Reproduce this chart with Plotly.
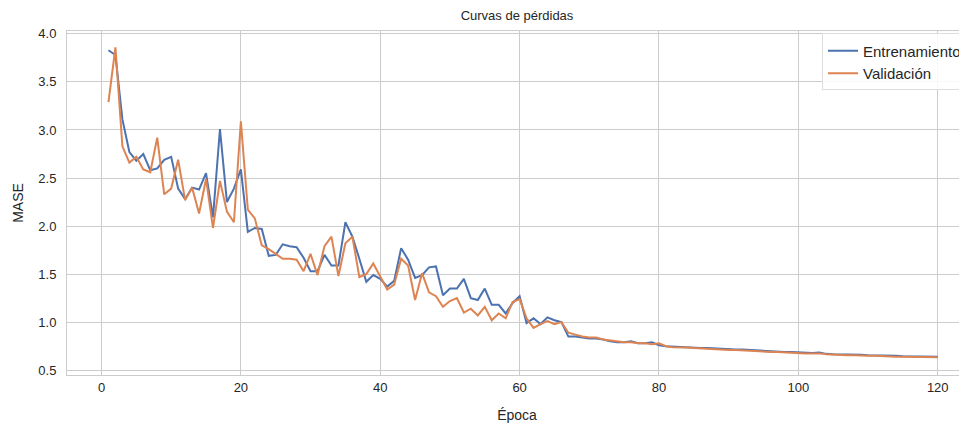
import plotly.graph_objects as go

epochs = list(range(1, 121))

train_loss = [
    3.83, 3.78, 3.11, 2.77, 2.68, 2.75, 2.58, 2.60, 2.69, 2.72,
    2.39, 2.28, 2.40, 2.38, 2.55, 2.09, 3.01, 2.25, 2.39, 2.59,
    1.94, 1.98, 1.97, 1.69, 1.70, 1.81, 1.79, 1.78, 1.67, 1.53,
    1.53, 1.70, 1.59, 1.59, 2.04, 1.89, 1.66, 1.42, 1.49, 1.45,
    1.37, 1.43, 1.77, 1.65, 1.46, 1.49, 1.57, 1.58, 1.28, 1.35,
    1.35, 1.45, 1.25, 1.23, 1.35, 1.18, 1.18, 1.09, 1.20, 1.27,
    0.99, 1.04, 0.98, 1.05, 1.02, 1.00, 0.85, 0.85, 0.84, 0.83,
    0.83, 0.82, 0.80, 0.79, 0.79, 0.80, 0.78, 0.78, 0.79, 0.76,
    0.75, 0.745, 0.745, 0.74, 0.735, 0.73, 0.73, 0.725, 0.72, 0.72,
    0.715, 0.715, 0.71, 0.705, 0.70, 0.70, 0.695, 0.69, 0.69, 0.685,
    0.685, 0.68, 0.685, 0.67, 0.665, 0.665, 0.66, 0.66, 0.66, 0.655,
    0.655, 0.65, 0.65, 0.65, 0.645, 0.645, 0.645, 0.64, 0.64, 0.64,
]

val_loss = [
    3.29, 3.86, 2.83, 2.66, 2.72, 2.59, 2.56, 2.92, 2.33, 2.39,
    2.69, 2.27, 2.40, 2.13, 2.49, 1.98, 2.47, 2.15, 2.04, 3.09,
    2.17, 2.08, 1.80, 1.76, 1.71, 1.66, 1.66, 1.65, 1.53, 1.71,
    1.49, 1.79, 1.89, 1.48, 1.82, 1.89, 1.47, 1.50, 1.61, 1.48,
    1.34, 1.39, 1.66, 1.59, 1.23, 1.51, 1.31, 1.27, 1.16, 1.22,
    1.25, 1.10, 1.14, 1.07, 1.16, 1.02, 1.09, 1.04, 1.21, 1.24,
    1.04, 0.94, 0.98, 1.01, 0.98, 1.00, 0.89, 0.87, 0.85, 0.84,
    0.84, 0.82, 0.81, 0.80, 0.79, 0.79, 0.78, 0.78, 0.77, 0.78,
    0.75, 0.74, 0.74, 0.735, 0.73, 0.725, 0.725, 0.72, 0.715, 0.71,
    0.71, 0.705, 0.70, 0.70, 0.695, 0.69, 0.69, 0.685, 0.68, 0.68,
    0.675, 0.675, 0.675, 0.665, 0.66, 0.66, 0.655, 0.655, 0.65, 0.65,
    0.65, 0.645, 0.645, 0.64, 0.64, 0.64, 0.635, 0.635, 0.635, 0.635,
]

x_ticks = [0, 20, 40, 60, 80, 100, 120]
y_ticks = [0.5, 1.0, 1.5, 2.0, 2.5, 3.0, 3.5, 4.0]

FONT = "Liberation Sans, Arial, sans-serif"
TXT = "#262626"

fig = go.Figure()
fig.add_trace(go.Scatter(x=epochs, y=train_loss, mode="lines", name="Entrenamiento",
                         line=dict(color="#4c72b0", width=2)))
fig.add_trace(go.Scatter(x=epochs, y=val_loss, mode="lines", name="Validación",
                         line=dict(color="#dd8452", width=2)))

H = 419
fig.update_layout(
    width=959, height=H,
    margin=dict(l=59, r=0, t=23, b=52),
    plot_bgcolor="white", paper_bgcolor="white",
    font=dict(family=FONT, size=13, color=TXT),
    title=dict(text="Curvas de pérdidas", x=0.5, xref="paper", y=1 - 3 / H, yref="container",
               yanchor="top", font=dict(size=13, color=TXT)),
    showlegend=True,
    legend=dict(x=1.0, y=0.993, xanchor="right", yanchor="top",
                bgcolor="rgba(255,255,255,0.85)", bordercolor="#dddddd", borderwidth=1,
                font=dict(size=15, color=TXT), tracegroupgap=0, itemwidth=30),
)
fig.update_xaxes(
    range=[-4.95, 124.2], tickvals=x_ticks, showgrid=True, gridcolor="#cccccc", gridwidth=1,
    zeroline=False, showline=True, linecolor="#cccccc", linewidth=1, mirror=True,
    ticks="", ticklen=0, title=dict(text="Época", font=dict(size=14, color=TXT), standoff=16),
    tickfont=dict(size=13, color=TXT),
)
fig.update_yaxes(
    range=[0.45, 4.03], tickvals=y_ticks, tickformat=".1f", showgrid=True, gridcolor="#cccccc",
    gridwidth=1, zeroline=False, showline=True, linecolor="#cccccc", linewidth=1, mirror=True,
    ticks="", ticklabelstandoff=7, title=dict(text="MASE", font=dict(size=14, color=TXT), standoff=11),
    tickfont=dict(size=13, color=TXT),
)

fig.write_html("out.html")
